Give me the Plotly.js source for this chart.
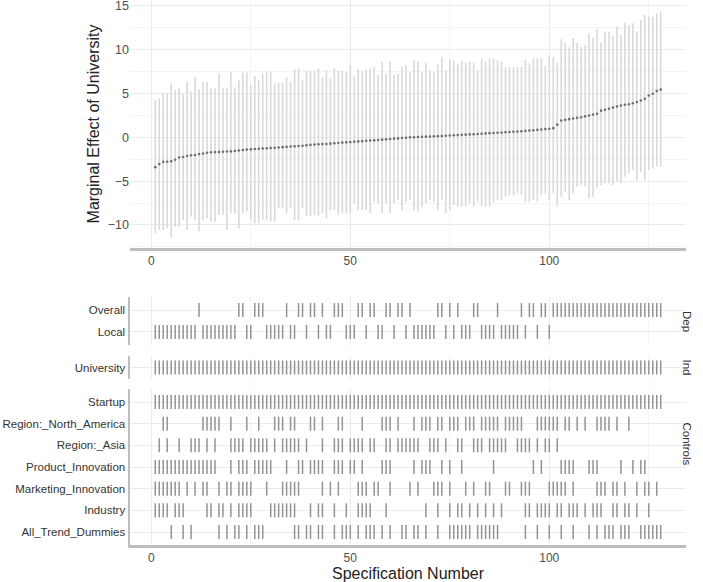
<!DOCTYPE html>
<html>
<head>
<meta charset="utf-8">
<script src="https://cdn.plot.ly/plotly-3.0.1.min.js"></script>
<style>html,body{margin:0;padding:0;background:#fff}#chart{width:703px;height:582px}</style>
</head>
<body>
<div id="chart"></div>
<script>
// ---- data ----
const specNumbers = [1,2,3,4,5,6,7,8,9,10,11,12,13,14,15,16,17,18,19,20,21,22,23,24,25,26,27,28,29,30,31,32,33,34,35,36,37,38,39,40,41,42,43,44,45,46,47,48,49,50,51,52,53,54,55,56,57,58,59,60,61,62,63,64,65,66,67,68,69,70,71,72,73,74,75,76,77,78,79,80,81,82,83,84,85,86,87,88,89,90,91,92,93,94,95,96,97,98,99,100,101,102,103,104,105,106,107,108,109,110,111,112,113,114,115,116,117,118,119,120,121,122,123,124,125,126,127,128];

const estimate = [-3.40,-3.05,-2.80,-2.78,-2.72,-2.55,-2.30,-2.25,-2.12,-2.05,-2.02,-1.90,-1.85,-1.75,-1.70,-1.68,-1.66,-1.64,-1.62,-1.60,
-1.55,-1.50,-1.45,-1.40,-1.37,-1.33,-1.30,-1.27,-1.25,-1.22,-1.18,-1.15,-1.12,-1.09,-1.05,-1.02,-0.98,-0.95,-0.90,-0.86,
-0.82,-0.80,-0.77,-0.75,-0.72,-0.68,-0.64,-0.60,-0.57,-0.54,-0.50,-0.46,-0.43,-0.40,-0.36,-0.33,-0.30,-0.26,-0.22,-0.18,
-0.15,-0.12,-0.08,-0.05,0.00,0.02,0.04,0.06,0.08,0.10,0.12,0.14,0.16,0.19,0.22,0.24,0.26,0.29,0.31,0.34,
0.36,0.39,0.42,0.45,0.48,0.50,0.53,0.55,0.58,0.61,0.64,0.67,0.70,0.74,0.78,0.82,0.86,0.90,0.94,0.98,
1.05,1.45,1.92,2.00,2.08,2.15,2.22,2.30,2.40,2.50,2.60,2.70,3.05,3.15,3.27,3.40,3.52,3.64,3.72,3.78,
3.90,4.04,4.20,4.40,4.78,4.98,5.28,5.46];

const upperCI = [4.27,4.46,5.03,5.03,6.17,5.41,5.60,4.95,6.36,5.22,6.93,5.49,6.36,6.36,5.60,5.60,7.31,5.60,5.68,7.50,
5.72,6.55,7.39,7.39,5.98,7.00,6.55,7.31,7.50,7.50,6.17,6.25,6.25,6.85,6.36,7.77,7.88,6.55,7.62,7.62,
7.62,7.88,6.85,7.69,6.74,7.88,7.62,7.62,7.50,8.26,6.93,7.77,7.50,7.77,7.88,8.00,7.12,8.57,7.24,8.64,
7.12,7.24,8.07,8.26,7.50,8.83,8.64,7.50,8.53,7.62,7.50,8.34,9.14,7.69,8.91,8.76,8.38,8.76,8.53,8.64,
8.53,7.69,8.91,8.64,9.02,9.02,8.83,8.64,8.00,8.00,8.00,8.00,8.07,8.83,8.45,9.02,9.02,9.02,8.15,9.29,
9.21,8.53,11.19,10.81,10.28,11.31,10.81,10.35,10.55,11.88,11.42,12.33,10.81,12.07,12.07,11.57,12.64,11.69,13.10,12.83,
13.02,12.07,13.40,13.97,13.78,13.78,14.16,14.35];

const lowerCI = [-10.95,-10.57,-10.57,-10.38,-11.41,-10.19,-10.19,-9.43,-10.57,-9.05,-9.43,-10.76,-9.43,-9.24,-9.62,-9.62,-8.86,-8.86,-10.57,-8.67,
-8.67,-10.38,-8.67,-8.48,-9.43,-9.81,-9.81,-9.43,-9.43,-9.62,-9.62,-8.10,-8.10,-8.67,-8.10,-9.43,-9.43,-8.10,-8.97,-8.97,
-8.86,-8.97,-8.67,-9.24,-8.29,-8.29,-8.86,-8.67,-8.67,-8.67,-7.53,-8.29,-8.29,-8.29,-8.67,-7.34,-7.53,-8.67,-7.53,-8.67,
-7.53,-7.15,-8.29,-7.34,-7.15,-8.29,-8.48,-7.91,-7.53,-7.15,-7.34,-8.29,-7.15,-8.67,-8.29,-7.72,-7.91,-7.91,-7.83,-7.60,
-7.91,-7.34,-7.83,-7.91,-7.91,-7.34,-7.15,-7.15,-6.77,-6.58,-6.58,-6.39,-6.58,-7.34,-7.34,-7.15,-7.34,-6.58,-6.39,-7.15,
-6.39,-7.83,-6.77,-6.20,-7.15,-6.39,-5.63,-5.44,-5.63,-6.96,-6.77,-5.82,-5.44,-5.25,-5.25,-5.44,-5.06,-5.25,-4.49,-4.11,
-3.73,-4.87,-3.92,-4.87,-3.73,-3.54,-3.35,-3.35];

// specification choices: spec numbers that include each choice
const depOverall = [12,22,23,26,27,28,34,37,38,40,41,43,46,47,48,52,53,55,56,59,60,62,63,65,72,73,75,77,81,82,87,93,95,96,98,99,
101,102,103,104,105,106,107,108,109,110,111,112,113,114,115,116,117,118,119,120,121,122,123,124,125,126,127,128];
const depLocal = [1,2,3,4,5,6,7,8,9,10,11,13,14,15,16,17,18,19,20,21,24,25,29,30,31,32,33,35,36,39,42,44,45,49,50,51,54,57,58,61,64,
66,67,68,69,70,71,74,76,78,79,80,83,84,85,86,88,89,90,91,92,94,97,100];
const indUniversity = [1,2,3,4,5,6,7,8,9,10,11,12,13,14,15,16,17,18,19,20,21,22,23,24,25,26,27,28,29,30,31,32,33,34,35,36,37,38,39,40,41,42,43,44,45,46,47,48,49,50,51,52,53,54,55,56,57,58,59,60,61,62,63,64,65,66,67,68,69,70,71,72,73,74,75,76,77,78,79,80,81,82,83,84,85,86,87,88,89,90,91,92,93,94,95,96,97,98,99,100,101,102,103,104,105,106,107,108,109,110,111,112,113,114,115,116,117,118,119,120,121,122,123,124,125,126,127,128];
const ctrlStartup = [1,2,3,4,5,6,7,8,9,10,11,12,13,14,15,16,17,18,19,20,21,22,23,24,25,26,27,28,29,30,31,32,33,34,35,36,37,38,39,40,41,42,43,44,45,46,47,48,49,50,51,52,53,54,55,56,57,58,59,60,61,62,63,64,65,66,67,68,69,70,71,72,73,74,75,76,77,78,79,80,81,82,83,84,85,86,87,88,89,90,91,92,93,94,95,96,97,98,99,100,101,102,103,104,105,106,107,108,109,110,111,112,113,114,115,116,117,118,119,120,121,122,123,124,125,126,127,128];
const ctrlNorthAmerica = [3,4,13,14,15,16,17,20,24,27,31,32,33,35,36,40,41,43,47,48,53,58,59,60,62,66,68,69,70,72,73,75,76,77,79,80,81,
83,84,85,86,87,89,90,91,92,93,97,98,99,100,101,102,104,105,107,109,112,113,114,115,117,120];
const ctrlAsia = [2,4,7,10,11,12,14,16,20,21,22,23,25,26,27,28,29,31,33,34,35,36,37,39,43,46,47,48,50,51,52,53,55,56,59,60,62,63,64,65,66,67,
70,71,72,74,77,78,81,82,83,85,86,87,88,89,92,93,94,95,97,99,100,102];
const ctrlProduct = [1,2,3,4,5,6,7,8,9,10,11,12,13,14,15,16,20,22,23,24,26,27,28,29,30,34,37,38,40,41,42,43,46,47,48,50,51,53,58,59,60,
66,68,69,70,73,75,78,86,96,98,103,104,105,106,110,111,112,118,121,123,124];
const ctrlMarketing = [1,2,3,4,5,6,7,9,11,13,14,17,19,20,22,23,24,25,29,33,34,35,36,37,43,45,47,52,53,54,56,57,60,65,67,71,72,73,75,79,81,
84,85,89,90,93,94,95,100,101,102,103,104,106,112,113,114,116,117,119,122,124,125,127];
const ctrlIndustry = [1,2,3,4,6,7,8,14,15,17,18,20,22,23,24,25,30,31,32,33,34,35,36,40,42,43,46,49,52,53,54,55,59,69,72,75,77,78,80,82,84,
86,88,94,95,97,98,99,100,102,103,105,106,107,109,111,112,113,116,117,119,120,122,125];
const ctrlTrend = [5,8,10,17,19,21,22,24,26,27,28,36,37,39,40,42,43,46,48,49,50,52,54,55,56,58,60,63,64,66,67,69,72,75,76,77,78,79,80,
82,83,84,85,86,87,94,97,100,103,106,110,112,114,115,116,118,119,120,123,124,125,126,127,128];

const depLabels = ['Local','Overall'];
const indLabels = ['University'];
const ctrlLabels = ['All_Trend_Dummies','Industry','Marketing_Innovation','Product_Innovation','Region:_Asia','Region:_North_America','Startup'];

// ---- build traces ----
const ciX = [], ciY = [];
specNumbers.forEach((s,i)=>{ ciX.push(s,s,null); ciY.push(lowerCI[i], upperCI[i], null); });

const traces = [
  {x: ciX, y: ciY, mode:'lines', line:{color:'#d9d9d9', width:1.6}, xaxis:'x', yaxis:'y', hoverinfo:'skip'},
  {x: specNumbers, y: estimate, mode:'markers', marker:{color:'#6e6e6e', size:2.6}, xaxis:'x', yaxis:'y'}
];

const markStyle = {symbol:'line-ns-open', size:10, color:'#939393', line:{width:1.5, color:'#939393'}};
function rowTrace(specs, yval, yaxis){
  return {x: specs, y: specs.map(()=>yval), mode:'markers', marker: markStyle, xaxis:'x2', yaxis: yaxis, hoverinfo:'x'};
}
traces.push(rowTrace(depLocal, 0, 'y2'));
traces.push(rowTrace(depOverall, 1, 'y2'));
traces.push(rowTrace(indUniversity, 0, 'y3'));
[ctrlTrend, ctrlIndustry, ctrlMarketing, ctrlProduct, ctrlAsia, ctrlNorthAmerica, ctrlStartup].forEach((arr,i)=>{
  traces.push(rowTrace(arr, i, 'y4'));
});

// ---- layout ----
const W = 703, H = 582;
const px = v => v / W;
const py = v => 1 - v / H;
const FONT = 'Liberation Sans, Arial, sans-serif';
const gridC = '#ebebeb', minorC = '#f4f4f4', lineC = '#bdbdbd', tickC = '#4d4d4d';
const xr = [-5.35, 134.35];
const xDomain = [px(130), px(686)];

function xAxisBase(anchor){
  return {domain: xDomain, range: xr, anchor: anchor, tickvals:[0,50,100], ticks:'', showgrid:true, gridcolor:gridC, gridwidth:1,
    minor:{tickvals:[25,75,125], showgrid:true, gridcolor:minorC, gridwidth:1}, zeroline:false, showline:true, linecolor:lineC, linewidth:2.5,
    tickfont:{size:12, color:tickC, family:FONT}, automargin:false, fixedrange:true, ticklabeloverflow:'allow'};
}
function yRowAxis(domain, range, vals, text){
  return {domain: domain, range: range, anchor:'x2', tickvals: vals, ticktext: text, ticks:'', showgrid:true, gridcolor:gridC,
    zeroline:false, showline:true, linecolor:lineC, linewidth:2.5, tickfont:{size:11.5, color:'#333333', family:FONT},
    automargin:false, fixedrange:true, ticklabeloverflow:'allow'};
}

const layout = {
  width: W, height: H, margin:{l:0,r:0,t:0,b:0}, paper_bgcolor:'#ffffff', plot_bgcolor:'#ffffff', showlegend:false,
  font:{family:FONT, color:'#333333'},
  xaxis: xAxisBase('y'),
  yaxis: {domain:[py(248), 1], range:[-12.63, 15.68], anchor:'x', tickvals:[-10,-5,0,5,10,15], ticks:'', showgrid:true, gridcolor:gridC,
    minor:{tickvals:[-12.5,-7.5,-2.5,2.5,7.5,12.5], showgrid:true, gridcolor:minorC}, zeroline:false, showline:false,
    tickfont:{size:12.5, color:tickC, family:FONT}, automargin:false, fixedrange:true, ticklabeloverflow:'allow',
    title:{text:'Marginal Effect of University', font:{size:16, color:'#222222', family:FONT}, standoff:4}},
  xaxis2: Object.assign(xAxisBase('y4'), {title:{text:'Specification Number', font:{size:16, color:'#222222', family:FONT}, standoff:3}}),
  yaxis2: yRowAxis([py(345), py(297)], [-0.6, 1.6], [0,1], depLabels),
  yaxis3: yRowAxis([py(379), py(356)], [-0.6, 0.6], [0], indLabels),
  yaxis4: yRowAxis([py(545), py(389)], [-0.6, 6.6], [0,1,2,3,4,5,6], ctrlLabels),
  annotations: [
    {text:'Dep', x:px(695), y:py(321), xref:'paper', yref:'paper', showarrow:false, textangle:90, font:{size:11.5, color:'#333333', family:FONT}},
    {text:'Ind', x:px(695), y:py(367.5), xref:'paper', yref:'paper', showarrow:false, textangle:90, font:{size:11.5, color:'#333333', family:FONT}},
    {text:'Controls', x:px(695), y:py(467), xref:'paper', yref:'paper', showarrow:false, textangle:90, font:{size:11.5, color:'#333333', family:FONT}}
  ]
};

Plotly.newPlot('chart', traces, layout, {displayModeBar:false, staticPlot:true});
</script>
</body>
</html>
